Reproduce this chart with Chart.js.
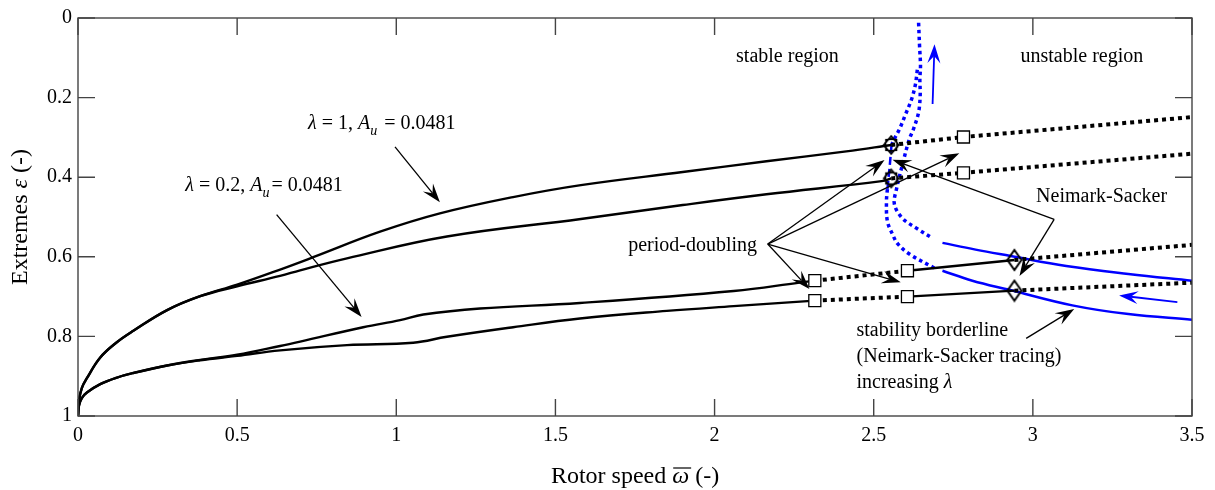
<!DOCTYPE html>
<html lang="en">
<head>
<meta charset="UTF-8">
<title>Extremes vs rotor speed</title>
<script src="https://cdn.jsdelivr.net/npm/chart.js"></script>
<style>
  body { margin: 0; background: #fff; }
  canvas { display: block; }
</style>
</head>
<body>
<canvas id="chart" width="1215" height="490"></canvas>
<script>
// axis ticks
const xTickValues = [0, 0.5, 1, 1.5, 2, 2.5, 3, 3.5];
const yTickValues = [0, 0.2, 0.4, 0.6, 0.8, 1];

// lambda = 1 : stable branches up to the period-doubling points
const lam1Upper = [[0, 1], [0.003, 0.962], [0.012, 0.930], [0.028, 0.905], [0.07, 0.853], [0.12, 0.816],
  [0.174, 0.786], [0.28, 0.734], [0.384, 0.699], [0.5, 0.670], [0.635, 0.632], [0.739, 0.601], [0.949, 0.537],
  [1.137, 0.491], [1.367, 0.450], [1.58, 0.420], [1.9, 0.387], [2.163, 0.360], [2.414, 0.335], [2.555, 0.319]];
const lam1Lower = [[0, 1], [0.003, 0.962], [0.012, 0.930], [0.028, 0.905], [0.07, 0.853], [0.12, 0.816],
  [0.174, 0.786], [0.28, 0.734], [0.384, 0.699], [0.5, 0.674], [0.635, 0.648], [0.698, 0.634], [0.845, 0.604],
  [1.159, 0.549], [1.58, 0.505], [1.9, 0.470], [2.163, 0.443], [2.525, 0.410], [2.555, 0.403]];
// lambda = 1 : unstable continuation
const lam1UpperUnstable = [[2.555, 0.319], [2.782, 0.299], [3.5, 0.249]];
const lam1LowerUnstable = [[2.555, 0.403], [2.782, 0.389], [3.5, 0.341]];

// lambda = 0.2 : stable branches
const lam02Upper = [[0, 1], [0.003, 0.974], [0.012, 0.955], [0.028, 0.941], [0.07, 0.920], [0.12, 0.904],
  [0.174, 0.892], [0.28, 0.873], [0.384, 0.859], [0.5, 0.846], [0.635, 0.824], [0.698, 0.813], [0.896, 0.777],
  [1.012, 0.759], [1.085, 0.745], [1.263, 0.730], [1.577, 0.716], [2.06, 0.686], [2.267, 0.665], [2.315, 0.660]];
const lam02Lower = [[0, 1], [0.003, 0.974], [0.012, 0.955], [0.028, 0.941], [0.07, 0.920], [0.12, 0.904],
  [0.174, 0.892], [0.28, 0.873], [0.384, 0.860], [0.5, 0.849], [0.635, 0.835], [0.845, 0.822], [1.053, 0.816],
  [1.159, 0.801], [1.367, 0.777], [1.577, 0.755], [1.85, 0.736], [2.06, 0.724], [2.315, 0.710]];
// lambda = 0.2 : unstable between the two period-doubling points
const lam02UpperPD = [[2.315, 0.660], [2.606, 0.635]];
const lam02LowerPD = [[2.315, 0.710], [2.606, 0.700]];
// lambda = 0.2 : restabilised up to Neimark-Sacker
const lam02UpperStable2 = [[2.606, 0.635], [2.942, 0.608]];
const lam02LowerStable2 = [[2.606, 0.700], [2.942, 0.685]];
// lambda = 0.2 : beyond Neimark-Sacker
const lam02UpperUnstable = [[2.942, 0.608], [3.5, 0.570]];
const lam02LowerUnstable = [[2.942, 0.685], [3.5, 0.665]];

// Neimark-Sacker tracing (stability borderline)
const nsOuterDotted = [[2.641, 0.012], [2.644, 0.070], [2.647, 0.120], [2.645, 0.154], [2.646, 0.194],
  [2.641, 0.237], [2.625, 0.279], [2.612, 0.304], [2.590, 0.369], [2.572, 0.428], [2.565, 0.468],
  [2.590, 0.503], [2.634, 0.528], [2.684, 0.553]];
const nsOuterSolid = [[2.716, 0.565], [2.82, 0.582], [2.93, 0.598], [3.105, 0.623], [3.3, 0.643], [3.5, 0.660]];
const nsInnerDotted = [[2.637, 0.130], [2.631, 0.167], [2.619, 0.204], [2.600, 0.242], [2.581, 0.279],
  [2.568, 0.299], [2.556, 0.319]];
const nsInnerDashed = [[2.556, 0.319], [2.550, 0.375], [2.543, 0.430]];
const nsInnerDotted2 = [[2.543, 0.430], [2.540, 0.461], [2.543, 0.511], [2.559, 0.543], [2.575, 0.567],
  [2.612, 0.593], [2.690, 0.628]];
const nsInnerSolid = [[2.716, 0.635], [2.81, 0.660], [2.926, 0.683], [3.124, 0.722], [3.3, 0.744], [3.5, 0.758]];

// bifurcation points
const pdPoints = [[2.315, 0.660], [2.315, 0.710], [2.606, 0.635], [2.606, 0.700], [2.782, 0.299], [2.782, 0.389]];
const nsPoints = [[2.942, 0.608], [2.942, 0.685]];
const nsPdPoints = [[2.555, 0.319], [2.555, 0.403]];

const BLUE = '#0000ff';
const SERIF = '"Liberation Serif", "Times New Roman", serif';

const pts = a => a.map(([x, y]) => ({x, y}));

function markerCanvas(w, h, draw) {
  const c = document.createElement('canvas');
  c.width = w; c.height = h;
  const g = c.getContext('2d');
  g.strokeStyle = '#000';
  g.lineWidth = 2;
  draw(g, w / 2, h / 2);
  return c;
}
const diamondMarker = markerCanvas(18, 24, (g, cx, cy) => {
  g.beginPath();
  g.moveTo(cx, cy - 10); g.lineTo(cx + 7, cy); g.lineTo(cx, cy + 10); g.lineTo(cx - 7, cy);
  g.closePath(); g.stroke();
});
const comboMarker = markerCanvas(20, 22, (g, cx, cy) => {
  g.lineWidth = 1.7;
  g.beginPath();
  g.moveTo(cx, cy - 9); g.lineTo(cx + 7.5, cy); g.lineTo(cx, cy + 9); g.lineTo(cx - 7.5, cy);
  g.closePath(); g.stroke();
  g.lineWidth = 1.2;
  g.strokeRect(cx - 5.5, cy - 5.5, 11, 11);
  g.beginPath(); g.arc(cx, cy, 6.3, 0, Math.PI * 2); g.stroke();
});

function line(data, color, width, dash, tension) {
  return {
    type: 'line', data: pts(data), borderColor: color, borderWidth: width,
    borderDash: dash || [], borderCapStyle: 'butt', pointRadius: 0, fill: false,
    tension: tension || 0, order: 5
  };
}
const DOT = [4, 4];
const BDOT = [3.5, 3.5];

const datasets = [
  {type: 'scatter', data: pts(pdPoints), pointStyle: 'rect', pointRadius: 8.5,
    backgroundColor: '#fff', borderColor: '#000', pointBorderWidth: 1.3, order: 0},
  {type: 'scatter', data: pts(nsPoints), pointStyle: diamondMarker, order: 0},
  {type: 'scatter', data: pts(nsPdPoints), pointStyle: comboMarker, order: 0},
  line(lam1Upper, '#000', 2.4, null, 0.4),
  line(lam1Lower, '#000', 2.4, null, 0.4),
  line(lam02Upper, '#000', 2.4, null, 0.4),
  line(lam02Lower, '#000', 2.4, null, 0.4),
  line(lam1UpperUnstable, '#000', 4, DOT),
  line(lam1LowerUnstable, '#000', 4, DOT),
  line(lam02UpperPD, '#000', 4, DOT),
  line(lam02LowerPD, '#000', 4, DOT),
  line(lam02UpperStable2, '#000', 2.4),
  line(lam02LowerStable2, '#000', 2.4),
  line(lam02UpperUnstable, '#000', 4, DOT),
  line(lam02LowerUnstable, '#000', 4, DOT),
  line(nsOuterDotted, BLUE, 3.5, BDOT, 0.35),
  line(nsOuterSolid, BLUE, 2.5, null, 0.4),
  line(nsInnerDotted, BLUE, 3.5, BDOT, 0.35),
  line(nsInnerDashed, BLUE, 2.5, [8, 4]),
  line(nsInnerDotted2, BLUE, 3.5, BDOT, 0.35),
  line(nsInnerSolid, BLUE, 2.5, null, 0.4)
];

// annotation arrows and texts, in data units
const arrows = [
  {from: [0.996, 0.324], to: [1.137, 0.463]},
  {from: [0.624, 0.494], to: [0.891, 0.751]},
  {from: [2.167, 0.568], to: [2.534, 0.357]},
  {from: [2.167, 0.568], to: [2.769, 0.340]},
  {from: [2.167, 0.568], to: [2.298, 0.681]},
  {from: [2.167, 0.568], to: [2.585, 0.664]},
  {from: [3.067, 0.506], to: [2.559, 0.356]},
  {from: [3.067, 0.506], to: [2.958, 0.648]},
  {from: [2.979, 0.805], to: [3.130, 0.731]},
  {from: [2.685, 0.216], to: [2.691, 0.066], color: BLUE, width: 1.8},
  {from: [3.454, 0.714], to: [3.271, 0.697], color: BLUE, width: 1.8}
];
// runs: [text, italic, subscript]
const labels = [
  {at: [0.723, 0.279], align: 'left', runs: [['λ', true], [' = 1, '], ['A', true], ['u', true, true], [' = 0.0481']]},
  {at: [0.337, 0.434], align: 'left', runs: [['λ', true], [' = 0.2, '], ['A', true], ['u', true, true], ['= 0.0481']]},
  {at: [2.229, 0.110], align: 'center', runs: [['stable region']]},
  {at: [3.154, 0.110], align: 'center', runs: [['unstable region']]},
  {at: [3.216, 0.463], align: 'center', runs: [['Neimark-Sacker']]},
  {at: [1.931, 0.585], align: 'center', runs: [['period-doubling']]},
  {at: [2.446, 0.800], align: 'left', runs: [['stability borderline']]},
  {at: [2.446, 0.864], align: 'left', runs: [['(Neimark-Sacker tracing)']]},
  {at: [2.446, 0.929], align: 'left', runs: [['increasing '], ['λ', true]]}
];

function runFont(italic, sub, size) {
  return (italic ? 'italic ' : '') + (sub ? Math.round(size * 0.7) : size) + 'px ' + SERIF;
}
function runsWidth(ctx, runs, size) {
  return runs.reduce((w, [t, it, sub]) => { ctx.font = runFont(it, sub, size); return w + ctx.measureText(t).width; }, 0);
}
function drawRuns(ctx, runs, x, y, size, align) {
  let cx = align === 'center' ? x - runsWidth(ctx, runs, size) / 2 : x;
  ctx.textAlign = 'left';
  ctx.textBaseline = 'alphabetic';
  runs.forEach(([t, it, sub]) => {
    ctx.font = runFont(it, sub, size);
    ctx.fillText(t, cx, sub ? y + 6 : y);
    cx += ctx.measureText(t).width + (sub ? 2 : 0);
  });
}

function arrow(ctx, x0, y0, x1, y1, color, lw) {
  const len = 19, wid = 13;
  const ang = Math.atan2(y1 - y0, x1 - x0);
  const c = Math.cos(ang), s = Math.sin(ang);
  const bx = x1 - c * len, by = y1 - s * len;
  const nx = x1 - c * len * 0.62, ny = y1 - s * len * 0.62;
  ctx.strokeStyle = color; ctx.lineWidth = lw;
  ctx.beginPath(); ctx.moveTo(x0, y0); ctx.lineTo(nx, ny); ctx.stroke();
  ctx.fillStyle = color;
  ctx.beginPath();
  ctx.moveTo(x1, y1);
  ctx.lineTo(bx - s * wid / 2, by + c * wid / 2);
  ctx.lineTo(nx, ny);
  ctx.lineTo(bx + s * wid / 2, by - c * wid / 2);
  ctx.closePath();
  ctx.fill();
}

const frame = {
  id: 'frame',
  afterDraw(chart) {
    const {ctx, chartArea: a, scales: {x, y}} = chart;
    const P = ([vx, vy]) => [x.getPixelForValue(vx), y.getPixelForValue(vy)];
    ctx.save();

    // box and inward ticks
    ctx.strokeStyle = '#444';
    ctx.lineWidth = 1.4;
    ctx.strokeRect(a.left, a.top, a.right - a.left, a.bottom - a.top);
    const tl = 17;
    ctx.beginPath();
    xTickValues.forEach(v => {
      const px = x.getPixelForValue(v);
      ctx.moveTo(px, a.bottom); ctx.lineTo(px, a.bottom - tl);
      ctx.moveTo(px, a.top); ctx.lineTo(px, a.top + tl);
    });
    yTickValues.forEach(v => {
      const py = y.getPixelForValue(v);
      ctx.moveTo(a.left, py); ctx.lineTo(a.left + tl, py);
      ctx.moveTo(a.right, py); ctx.lineTo(a.right - tl, py);
    });
    ctx.stroke();

    // arrows
    arrows.forEach(ar => {
      const [x0, y0] = P(ar.from), [x1, y1] = P(ar.to);
      arrow(ctx, x0, y0, x1, y1, ar.color || '#000', ar.width || 1.3);
    });

    // labels
    ctx.fillStyle = '#000';
    labels.forEach(l => {
      const [px, py] = P(l.at);
      drawRuns(ctx, l.runs, px, py, 20, l.align);
    });

    // x axis title with overlined omega
    const xr = [['Rotor speed '], ['ω', true], [' (-)']];
    const xw = runsWidth(ctx, xr, 24);
    const xl = (a.left + a.right) / 2 - xw / 2;
    const xb = a.bottom + 67;
    drawRuns(ctx, xr, xl, xb, 24, 'left');
    ctx.font = runFont(false, false, 24);
    const ow = ctx.measureText('Rotor speed ').width;
    ctx.font = runFont(true, false, 24);
    const omw = ctx.measureText('ω').width;
    ctx.strokeStyle = '#000';
    ctx.lineWidth = 1.2;
    ctx.beginPath();
    ctx.moveTo(xl + ow + 1, xb - 15); ctx.lineTo(xl + ow + omw + 2, xb - 15);
    ctx.stroke();

    // y axis title
    ctx.translate(27, (a.top + a.bottom) / 2);
    ctx.rotate(-Math.PI / 2);
    drawRuns(ctx, [['Extremes '], ['ε', true], [' (-)']], 0, 0, 24, 'center');
    ctx.restore();
  }
};

new Chart(document.getElementById('chart'), {
  data: {datasets},
  options: {
    responsive: false,
    animation: false,
    layout: {padding: {top: 15, right: 23, bottom: 0, left: 0}},
    plugins: {legend: {display: false}, tooltip: {enabled: false}},
    scales: {
      x: {
        type: 'linear', min: 0, max: 3.5,
        grid: {display: false, drawTicks: false}, border: {display: false},
        afterBuildTicks: s => { s.ticks = xTickValues.map(v => ({value: v})); },
        afterFit: s => { s.height = 74; },
        ticks: {color: '#000', font: {family: SERIF, size: 20}, padding: 8, maxRotation: 0, callback: v => String(v)}
      },
      y: {
        type: 'linear', min: 0, max: 1, reverse: true,
        grid: {display: false, drawTicks: false}, border: {display: false},
        afterBuildTicks: s => { s.ticks = yTickValues.map(v => ({value: v})); },
        afterFit: s => { s.width = 78; },
        ticks: {color: '#000', font: {family: SERIF, size: 20}, padding: 6, callback: v => String(v)}
      }
    }
  },
  plugins: [frame]
});
</script>
</body>
</html>
